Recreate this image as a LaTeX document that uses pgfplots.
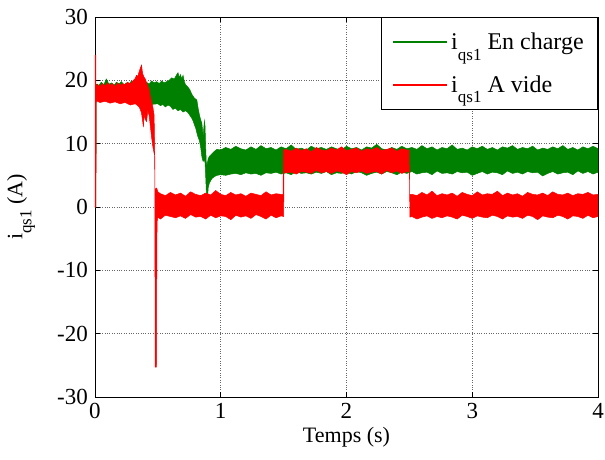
\documentclass[border=0pt]{standalone}
\usepackage{fontspec}
\setmainfont{Liberation Serif}
\usepackage{pgfplots}
\pgfplotsset{compat=1.18}
\definecolor{mgreen}{RGB}{0,128,0}
\definecolor{mred}{RGB}{255,0,0}
\newcommand{\iqs}{i\raisebox{-0.42em}{\fontsize{17}{17}\selectfont qs1}}
\begin{document}
\begin{tikzpicture}
\useasboundingbox (-95pt,-62pt) rectangle (510pt,397pt);
\begin{axis}[
  at={(0pt,0pt)}, anchor=south west,
  width=503pt, height=380pt, scale only axis,
  xmin=0, xmax=4, ymin=-30, ymax=30,
  xtick={0,1,2,3,4}, ytick={-30,-20,-10,0,10,20,30},
  xticklabels={}, yticklabels={},
  clip mode=individual,
  tick align=inside, tick pos=both,
  major tick length=5pt,
  grid=major, major grid style={dotted, black!60, line width=0.6pt},
  axis line style={line width=0.8pt},
  tick style={black, line width=0.6pt},
  xlabel={Temps (s)}, ylabel={\iqs\ (A)},
  label style={font=\fontsize{22}{22}\selectfont},
  xlabel style={at={(axis description cs:0.5,-0.105)}, anchor=center},
  ylabel style={at={(axis description cs:-0.147,0.5)}, anchor=center},
  legend style={at={(1,1)}, anchor=north east, draw=black, fill=white,
    line width=0.6pt, font=\fontsize{24}{24}\selectfont,
    inner xsep=11pt, inner ysep=13pt, row sep=18pt,
    nodes={inner sep=3pt}},
  legend cell align=left,
  legend image code/.code={\draw[#1, line width=2pt] (0pt,0pt) -- (54pt,0pt);},
]
% green (En charge) envelope
\addplot[forget plot, fill=mgreen, draw=mgreen, line width=0.5pt] coordinates {
(0,0) (0.004,0) (0.008,19.4) (0.03,19.2) (0.05,19.7) (0.07,19.3) (0.09,20.2) (0.11,19.4) (0.13,19.6) (0.15,19.2) (0.17,19.7) (0.19,19.4) (0.21,19.8) (0.23,19.3) (0.25,19.6) (0.27,19.4) (0.29,19.9) (0.31,19.5) (0.33,19.7) (0.35,19.4) (0.37,19.8) (0.39,19.5) (0.41,19.7) (0.43,19.4) (0.45,19.9) (0.47,19.6) (0.49,19.8) (0.51,19.5) (0.53,19.9) (0.55,19.6) (0.57,19.8) (0.59,20.0) (0.61,20.4) (0.63,20.2) (0.65,20.9) (0.66,21.2) (0.67,20.4) (0.68,20.9) (0.69,20.2) (0.70,20.8) (0.71,19.8) (0.72,19.3) (0.74,18.9) (0.755,18.5) (0.77,17.8) (0.79,17.2) (0.81,16.9) (0.82,15.6) (0.83,14.6) (0.84,13.8) (0.85,13.2) (0.86,11.2) (0.865,12.4) (0.87,13.6) (0.875,12.8) (0.88,9.5) (0.885,7.0) (0.89,6.6) (0.90,7.6) (0.91,8.0) (0.93,8.4) (0.95,8.8) (0.97,9.1)
(1.00,9.0) (1.04,9.4) (1.08,9.1) (1.12,9.6) (1.16,9.2) (1.20,9.0) (1.24,9.5) (1.28,9.1) (1.32,9.7) (1.36,9.2) (1.40,9.4) (1.44,9.0) (1.48,9.5) (1.52,9.2) (1.56,9.8) (1.60,9.1) (1.64,9.3) (1.68,9.0) (1.72,9.6) (1.76,9.2) (1.80,9.4) (1.84,9.1) (1.88,9.5) (1.92,9.2) (1.96,9.0) (2.00,9.6) (2.04,9.2) (2.08,9.4) (2.12,9.0) (2.16,9.5) (2.20,9.3) (2.24,9.9) (2.28,9.2) (2.32,9.0) (2.36,9.4) (2.40,9.1) (2.44,9.6) (2.48,9.2) (2.52,9.4) (2.56,9.1) (2.60,9.7) (2.64,9.2) (2.68,9.5) (2.72,9.0) (2.76,9.4) (2.80,9.2) (2.84,9.8) (2.88,9.1) (2.92,9.3) (2.96,9.0) (3.00,9.5) (3.04,9.2) (3.08,9.6) (3.12,9.1) (3.16,9.4) (3.20,9.0) (3.24,9.5) (3.28,9.3) (3.32,9.7) (3.36,9.1) (3.40,9.4) (3.44,9.2) (3.48,9.6) (3.52,9.0) (3.56,9.3) (3.60,9.1) (3.64,9.5) (3.68,9.2) (3.72,9.7) (3.76,9.1) (3.80,9.4) (3.84,9.0) (3.88,9.5) (3.92,9.2) (3.96,9.6) (4.00,9.2)
(4.00,5.5) (3.96,5.2) (3.92,5.6) (3.88,5.3) (3.84,5.7) (3.80,5.1) (3.76,5.5) (3.72,5.4) (3.68,5.2) (3.64,5.6) (3.60,5.3) (3.56,4.9) (3.52,5.5) (3.48,5.4) (3.44,5.6) (3.40,5.2) (3.36,5.5) (3.32,5.3) (3.28,5.7) (3.24,5.1) (3.20,5.4) (3.16,5.5) (3.12,5.2) (3.08,5.6) (3.04,5.3) (3.00,5.0) (2.96,5.5) (2.92,5.4) (2.88,5.6) (2.84,5.2) (2.80,5.4) (2.76,5.3) (2.72,5.7) (2.68,5.1) (2.64,5.5) (2.60,5.4) (2.56,5.2) (2.52,5.6) (2.48,5.3) (2.44,5.5) (2.40,5.1) (2.36,5.4) (2.32,5.6) (2.28,5.2) (2.24,5.5) (2.20,5.3) (2.16,5.0) (2.12,5.4) (2.08,5.6) (2.04,5.2) (2.00,5.5) (1.96,5.3) (1.92,5.4) (1.88,5.1) (1.84,5.6) (1.80,5.3) (1.76,5.5) (1.72,5.2) (1.68,5.4) (1.64,5.3) (1.60,5.6) (1.56,5.1) (1.52,5.4) (1.48,5.2) (1.44,5.5) (1.40,5.3) (1.36,5.4) (1.32,5.0) (1.28,5.3) (1.24,5.2) (1.20,5.4) (1.16,5.1) (1.12,5.3) (1.08,5.2) (1.04,5.0) (1.00,5.1)
(0.97,5.0) (0.95,4.8) (0.93,4.5) (0.91,3.8) (0.90,3.0) (0.895,1.2) (0.89,0.4) (0.885,2.5) (0.88,5.0) (0.875,7.0) (0.87,7.5) (0.86,7.2) (0.85,7.9) (0.84,9.5) (0.83,10.5) (0.82,11.0) (0.81,11.7) (0.80,12.5) (0.79,13.0) (0.78,13.6) (0.77,14.0) (0.76,14.3) (0.75,14.6) (0.74,14.9) (0.72,15.2) (0.70,15.0) (0.68,15.4) (0.66,15.2) (0.64,15.6) (0.62,15.4) (0.60,15.9) (0.58,16.1) (0.56,15.8) (0.54,16.2) (0.52,16.0) (0.50,16.3) (0.45,16.2) (0.40,16.6) (0.35,16.4) (0.30,16.8) (0.25,16.6) (0.20,17.0) (0.15,16.8) (0.10,17.1) (0.05,16.9) (0.01,17.2) (0.006,0)
} -- cycle;
% red (A vide) envelope
\addplot[forget plot, fill=mred, draw=mred, line width=0.5pt] coordinates {
(0,0) (0.002,24) (0.006,24) (0.008,19.0) (0.02,19.4) (0.04,19.0) (0.06,19.5) (0.08,19.1) (0.10,19.6) (0.12,19.2) (0.14,19.5) (0.16,19.0) (0.18,19.6) (0.20,19.2) (0.22,19.5) (0.24,19.3) (0.26,19.7) (0.28,19.4) (0.30,19.9) (0.32,20.3) (0.33,20.8) (0.34,20.6) (0.35,21.3) (0.36,21.9) (0.37,22.4) (0.375,21.6) (0.38,21.0) (0.39,20.5) (0.40,20.2) (0.41,19.6) (0.42,19.0) (0.43,18.6) (0.44,17.4) (0.45,16.6) (0.46,15.8) (0.47,14.5) (0.474,10) (0.476,3.0) (0.48,2.8) (0.49,3.0) (0.50,2.4)
(0.52,2.1) (0.56,1.8) (0.60,2.3) (0.64,1.9) (0.68,2.2) (0.72,1.7) (0.76,2.4) (0.80,2.0) (0.84,1.8) (0.88,2.2) (0.92,1.9) (0.96,2.6) (1.00,2.0) (1.04,1.8) (1.08,2.3) (1.12,1.9) (1.16,2.1) (1.20,1.7) (1.24,2.2) (1.28,2.0) (1.32,1.8) (1.36,2.4) (1.40,1.9) (1.44,2.1) (1.48,2.0) (1.495,2.0)
(1.50,9.0) (1.52,9.1) (1.56,8.8) (1.60,9.3) (1.64,8.9) (1.68,9.2) (1.72,8.7) (1.76,9.4) (1.80,9.0) (1.84,8.9) (1.88,9.3) (1.92,9.0) (1.96,9.5) (2.00,8.9) (2.04,9.1) (2.08,9.3) (2.12,8.8) (2.16,9.2) (2.20,9.0) (2.24,9.4) (2.28,8.9) (2.32,9.1) (2.36,9.3) (2.40,8.8) (2.44,9.2) (2.48,9.0) (2.497,9.0)
(2.503,2.0) (2.52,2.0) (2.56,1.8) (2.60,2.3) (2.64,1.9) (2.68,2.5) (2.72,1.8) (2.76,2.1) (2.80,1.9) (2.84,2.2) (2.88,1.7) (2.92,2.3) (2.96,2.0) (3.00,1.8) (3.04,2.4) (3.08,1.9) (3.12,2.1) (3.16,2.0) (3.20,2.5) (3.24,1.8) (3.28,2.2) (3.32,1.9) (3.36,2.1) (3.40,1.7) (3.44,2.3) (3.48,2.0) (3.52,1.9) (3.56,2.2) (3.60,1.8) (3.64,2.4) (3.68,2.0) (3.72,1.9) (3.76,2.2) (3.80,1.8) (3.84,2.1) (3.88,2.0) (3.92,2.3) (3.96,1.9) (4.00,2.0)
(4.00,-1.5) (3.96,-1.7) (3.92,-1.3) (3.88,-1.8) (3.84,-1.5) (3.80,-1.4) (3.76,-1.9) (3.72,-1.5) (3.68,-1.3) (3.64,-1.7) (3.60,-1.6) (3.56,-1.4) (3.52,-2.0) (3.48,-1.5) (3.44,-1.3) (3.40,-1.8) (3.36,-1.5) (3.32,-1.6) (3.28,-1.4) (3.24,-1.9) (3.20,-1.5) (3.16,-1.3) (3.12,-1.7) (3.08,-1.6) (3.04,-1.4) (3.00,-1.8) (2.96,-1.5) (2.92,-1.3) (2.88,-1.9) (2.84,-1.6) (2.80,-1.4) (2.76,-1.7) (2.72,-1.5) (2.68,-1.8) (2.64,-1.4) (2.60,-1.6) (2.56,-1.9) (2.52,-1.5) (2.504,-1.6)
(2.501,5.6) (2.48,5.6) (2.44,5.3) (2.40,5.7) (2.36,5.4) (2.32,5.8) (2.28,5.2) (2.24,5.6) (2.20,5.5) (2.16,5.3) (2.12,5.7) (2.08,5.4) (2.04,5.6) (2.00,5.1) (1.96,5.5) (1.92,5.7) (1.88,5.3) (1.84,5.6) (1.80,5.4) (1.76,5.8) (1.72,5.3) (1.68,5.5) (1.64,5.6) (1.60,5.2) (1.56,5.5) (1.52,5.4) (1.503,5.4)
(1.500,-1.5) (1.48,-1.4) (1.44,-1.7) (1.40,-1.3) (1.36,-1.9) (1.32,-1.5) (1.28,-1.2) (1.24,-1.8) (1.20,-1.4) (1.16,-1.6) (1.12,-1.3) (1.08,-2.0) (1.04,-1.5) (1.00,-1.4) (0.96,-1.7) (0.92,-1.3) (0.88,-1.9) (0.84,-1.5) (0.80,-1.6) (0.76,-1.2) (0.72,-1.8) (0.68,-1.4) (0.64,-1.7) (0.60,-1.5) (0.56,-1.3) (0.52,-1.9)
(0.50,-1.6) (0.495,-2.2) (0.492,-5) (0.489,-25.3) (0.478,-25.3) (0.476,8) (0.47,8.5) (0.46,9.5) (0.45,11) (0.44,12.8) (0.43,14.5) (0.42,15.2) (0.41,13.5) (0.40,13.8) (0.39,14.6) (0.385,12.6) (0.38,13.4) (0.37,14.8) (0.36,15.4) (0.35,15.8) (0.34,16.0) (0.32,16.3) (0.28,16.1) (0.24,16.5) (0.20,16.3) (0.16,16.6) (0.12,16.4) (0.08,16.7) (0.04,16.5) (0.01,16.8) (0.007,0)
} -- cycle;
\addlegendimage{mgreen}
\addlegendentry{\iqs\ En charge}
\addlegendimage{mred}
\addlegendentry{\iqs\ A vide}
% tick labels (serif text)
\pgfplotsinvokeforeach{0,1,2,3,4}{
  \node[anchor=north, inner sep=3pt, yshift=-3pt, font=\fontsize{23}{23}\selectfont] at (axis cs:#1,-30) {#1};
}
\pgfplotsinvokeforeach{-30,-20,-10,0,10,20,30}{
  \node[anchor=east, inner sep=3pt, xshift=-4pt, font=\fontsize{23}{23}\selectfont] at (axis cs:0,#1) {#1};
}
\end{axis}
\end{tikzpicture}
\end{document}
